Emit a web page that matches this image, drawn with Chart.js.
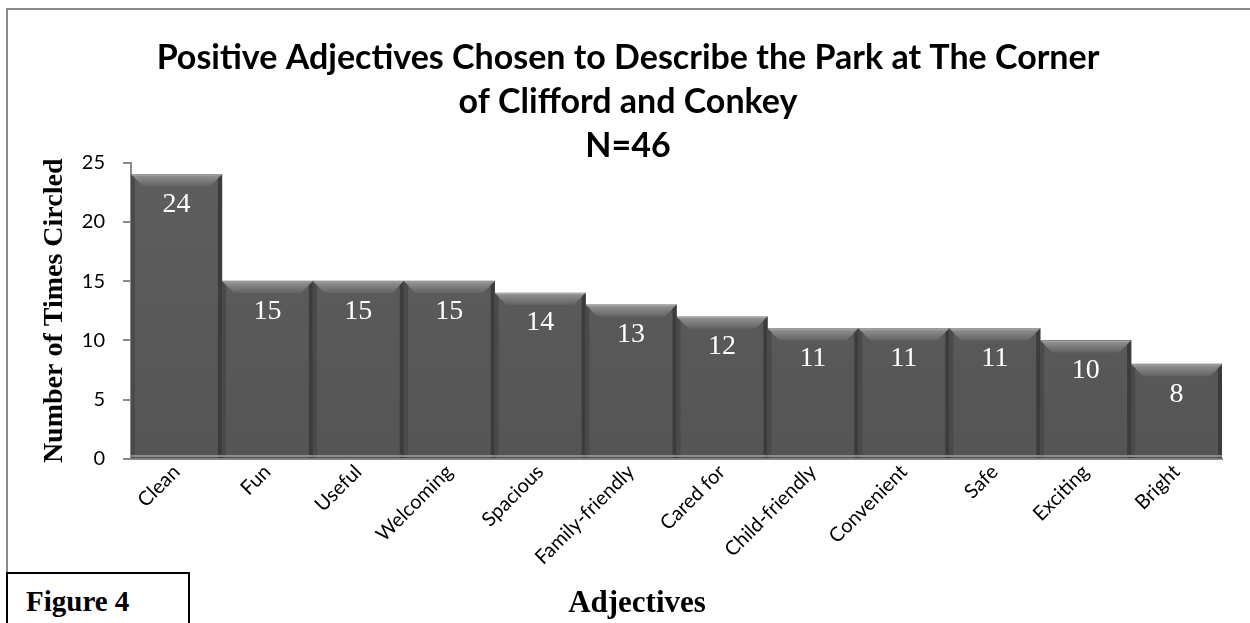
<!DOCTYPE html>
<html>
<head>
<meta charset="utf-8">
<script src="https://cdn.jsdelivr.net/npm/chart.js@4"></script>
<style>
    html, body { margin: 0; padding: 0; background: #fff; }
    #wrap { position: relative; width: 1250px; height: 623px; overflow: hidden; }
    #frame {
        position: absolute; left: 6px; top: 8px; width: 1260px; height: 640px;
        border-top: 2px solid #8a8a8a; border-left: 2px solid #8a8a8a;
    }
    #fig {
        position: absolute; left: 6px; top: 572px; width: 184px; height: 60px;
        border: 2px solid #000; background: #fff;
        font: bold 29px "Liberation Serif", "Times New Roman", serif;
        padding: 13px 0 0 18px; box-sizing: border-box; line-height: 1;
    }
    #xtitle {
        position: absolute; left: 537px; width: 200px; top: 586px; text-align: center;
        font: bold 31px "Liberation Serif", "Times New Roman", serif; line-height: 1;
    }
    canvas { position: absolute; left: 0; top: 0; }
</style>
</head>
<body>
<div id="wrap">
    <div id="frame"></div>
    <canvas id="chart"></canvas>
    <div id="xtitle">Adjectives</div>
    <div id="fig">Figure 4</div>
</div>
<script>
const adjectives = ['Clean','Fun','Useful','Welcoming','Spacious','Family-friendly','Cared for','Child-friendly','Convenient','Safe','Exciting','Bright']
const timesCircled = [24,15,15,15,14,13,12,11,11,11,10,8]
const titleLines = ['Positive Adjectives Chosen to Describe the Park at The Corner','of Clifford and Conkey','N=46']

// bevelled bar faces plus the value printed just under each top edge
const bevelBars = {
    id: 'bevelBars',
    afterDatasetsDraw(chart) {
        const ctx = chart.ctx
        const meta = chart.getDatasetMeta(0)
        ctx.save()
        meta.data.forEach((bar, i) => {
            const l = bar.x - bar.width / 2
            const r = bar.x + bar.width / 2
            const t = bar.y
            const b = bar.base
            const bv = 12
            const sd = 4

            // top bevel
            const g = ctx.createLinearGradient(0, t, 0, t + bv)
            g.addColorStop(0, '#b4b4b4')
            g.addColorStop(0.15, '#8e8e8e')
            g.addColorStop(1, '#626262')
            ctx.fillStyle = g
            ctx.beginPath()
            ctx.moveTo(l, t); ctx.lineTo(r, t); ctx.lineTo(r - bv, t + bv); ctx.lineTo(l + bv, t + bv)
            ctx.closePath(); ctx.fill()

            // left side
            ctx.fillStyle = '#4a4a4a'
            ctx.beginPath()
            ctx.moveTo(l, t); ctx.lineTo(l + sd, t + sd); ctx.lineTo(l + sd, b); ctx.lineTo(l, b)
            ctx.closePath(); ctx.fill()

            // right side
            ctx.fillStyle = '#3c3c3c'
            ctx.beginPath()
            ctx.moveTo(r, t); ctx.lineTo(r - sd, t + sd); ctx.lineTo(r - sd, b); ctx.lineTo(r, b)
            ctx.closePath(); ctx.fill()

            // bottom highlight
            ctx.fillStyle = '#8c8c8c'
            ctx.fillRect(l, b - 3, bar.width, 2)

            ctx.fillStyle = '#ffffff'
            ctx.font = '28px "Liberation Serif", "Times New Roman", serif'
            ctx.textAlign = 'center'
            ctx.textBaseline = 'middle'
            ctx.fillText(String(timesCircled[i]), bar.x, t + 30)
        })
        ctx.restore()
    }
}

const ctx = document.getElementById('chart').getContext('2d')
const fill = ctx.createLinearGradient(0, 160, 0, 460)
fill.addColorStop(0, '#5e5e5e')
fill.addColorStop(1, '#555555')

new Chart(ctx, {
    type: 'bar',
    data: {
        labels: adjectives,
        datasets: [{
            data: timesCircled,
            backgroundColor: fill,
            borderWidth: 0,
            categoryPercentage: 1,
            barPercentage: 1
        }]
    },
    options: {
        responsive: true,
        maintainAspectRatio: false,
        animation: false,
        layout: { padding: { top: 30, right: 28, left: 34, bottom: 0 } },
        plugins: {
            legend: { display: false },
            tooltip: { enabled: false },
            title: {
                display: true,
                text: titleLines,
                color: '#000',
                font: { family: 'Lato', weight: 'bold', size: 34, lineHeight: 1.3 },
                padding: { top: 6, bottom: -6 }
            }
        },
        scales: {
            x: {
                grid: { display: false },
                border: { display: true, color: '#8a8a8a', width: 2 },
                ticks: {
                    color: '#000',
                    font: { family: 'Lato', size: 20 },
                    maxRotation: 45,
                    minRotation: 45,
                    padding: -7
                },
                afterFit(scale) { scale.height = 164 }
            },
            y: {
                min: 0,
                max: 25,
                grid: { drawOnChartArea: false, tickLength: 8, color: '#8a8a8a', lineWidth: 2 },
                border: { display: true, color: '#8a8a8a', width: 2 },
                ticks: {
                    stepSize: 5,
                    color: '#000',
                    font: { family: 'Lato', size: 20 },
                    padding: 18
                },
                title: {
                    display: true,
                    text: 'Number of Times Circled',
                    color: '#000',
                    font: { family: '"Liberation Serif", serif', weight: 'bold', size: 28 }
                },
                afterFit(scale) { scale.width = 97 }
            }
        }
    },
    plugins: [bevelBars]
})
</script>
</body>
</html>
